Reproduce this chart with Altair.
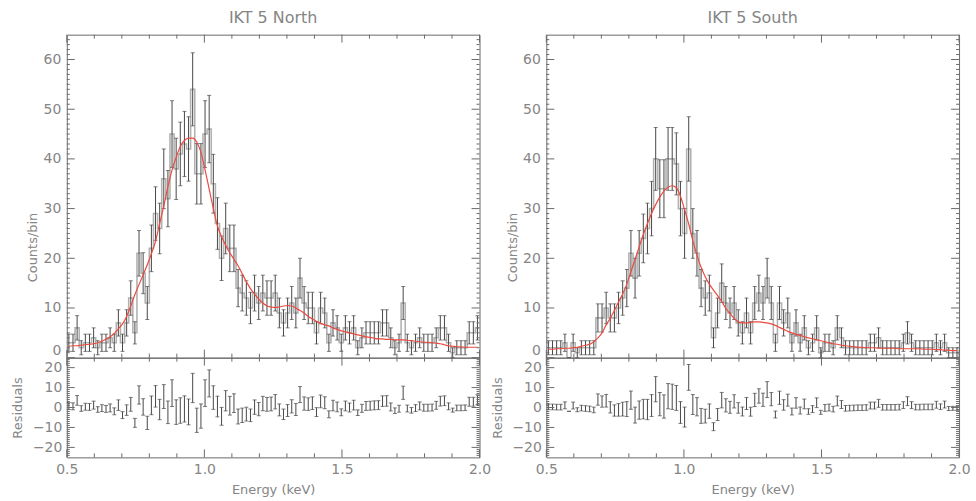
import numpy as np
import pandas as pd
import altair as alt

# ---------------- data ----------------
E_START, E_STOP, N_BINS = 0.5, 2.0, 100

counts_north = [3, 3, 6, 2, 3, 3, 4, 2, 3, 3,
                4, 3, 7, 3, 7, 12, 5, 21, 17, 11,
                22, 29, 26, 36, 32, 45, 38, 41, 43, 42,
                54, 37, 37, 45, 46, 35, 27, 20, 26, 22,
                22, 14, 13, 12, 10, 13, 11, 13, 12, 12,
                13, 9, 7, 9, 11, 9, 16, 11, 10, 10,
                5, 10, 9, 3, 7, 6, 3, 6, 5, 6,
                2, 4, 5, 5, 5, 5, 7, 7, 4, 2,
                3, 11, 3, 2, 3, 4, 3, 3, 3, 4,
                6, 6, 3, 1, 2, 2, 2, 5, 5, 6]

model_north = [2.3, 2.4, 2.4, 2.5, 2.6, 2.7, 2.8, 3.0, 3.3, 3.7,
               4.2, 4.9, 5.8, 6.8, 8.3, 10.4, 12.7, 14.7, 16.7, 18.7,
               20.9, 23.4, 27.0, 30.5, 34.4, 37.8, 40.3, 42.5, 43.7, 44.2,
               44.2, 43.4, 41.3, 37.8, 33.9, 30.0, 26.5, 24.4, 22.6, 21.1,
               19.8, 18.5, 16.9, 15.3, 13.9, 12.8, 11.8, 11.0, 10.4, 10.2,
               10.1, 10.2, 10.4, 10.5, 10.4, 10.0, 9.5, 9.0, 8.3, 7.8,
               7.3, 6.9, 6.6, 6.4, 6.0, 5.7, 5.4, 5.2, 5.0, 4.8,
               4.6, 4.4, 4.2, 4.1, 3.9, 3.8, 3.8, 3.7, 3.7, 3.6,
               3.6, 3.6, 3.5, 3.4, 3.3, 3.2, 3.1, 3.1, 3.0, 2.9,
               2.8, 2.6, 2.4, 2.3, 2.2, 2.2, 2.1, 2.1, 2.1, 2.1]

counts_south = [2, 2, 2, 2, 3, 0, 3, 1, 2, 2,
                2, 2, 8, 8, 10, 8, 8, 10, 12, 14,
                21, 16, 21, 24, 26, 30, 40, 34, 34, 40,
                40, 39, 30, 25, 42, 25, 21, 14, 12, 13,
                4, 9, 15, 11, 9, 11, 7, 5, 9, 5,
                11, 13, 11, 16, 11, 3, 11, 7, 9, 3,
                7, 3, 6, 2, 3, 6, 1, 3, 3, 2,
                6, 4, 2, 2, 2, 2, 2, 2, 3, 3,
                4, 2, 2, 2, 2, 2, 3, 5, 3, 2,
                2, 2, 2, 2, 3, 2, 3, 1, 1, 1]

model_south = [1.7, 1.7, 1.8, 1.8, 1.9, 1.9, 2.0, 2.1, 2.3, 2.5,
               2.7, 3.2, 4.0, 5.0, 6.6, 7.9, 9.5, 11.2, 12.8, 14.8,
               17.3, 19.8, 22.3, 24.8, 27.0, 29.0, 30.8, 32.3, 33.5, 34.3,
               34.6, 34.2, 32.5, 29.8, 26.9, 23.5, 20.6, 18.2, 16.3, 14.8,
               13.6, 12.5, 11.3, 9.9, 8.9, 7.9, 7.2, 7.0, 7.0, 7.1,
               7.2, 7.2, 7.1, 7.0, 6.8, 6.5, 6.1, 5.7, 5.3, 5.0,
               4.7, 4.5, 4.2, 4.0, 3.8, 3.6, 3.4, 3.2, 3.0, 2.8,
               2.7, 2.5, 2.4, 2.3, 2.2, 2.1, 2.1, 2.0, 2.0, 2.0,
               1.9, 1.9, 1.9, 1.9, 1.9, 1.8, 1.8, 1.8, 1.8, 1.8,
               1.8, 1.7, 1.7, 1.7, 1.6, 1.6, 1.5, 1.5, 1.4, 1.4]

titles = ["IKT 5 North", "IKT 5 South"]
x_major = [0.5, 1.0, 1.5, 2.0]
x_minor = [0.6, 0.7, 0.8, 0.9, 1.1, 1.2, 1.3, 1.4, 1.6, 1.7, 1.8, 1.9]
top_labels = [0, 10, 20, 30, 40, 50, 60]
res_labels = [-20, -10, 0, 10, 20]
top_minor = [v for v in range(1, 65) if v % 10]
res_minor = [v for v in range(-24, 25) if v % 10]

edges = np.linspace(E_START, E_STOP, N_BINS + 1)
centers = 0.5 * (edges[:-1] + edges[1:])

# ---------------- style ----------------
W, HT, HR = 414, 324, 100
TXT = "#858585"
FRAME = "#6a6a6a"
BAR = "#474747"
HIST = "#b2b2b2"
RED = "#ec4a3f"
FONT = "DejaVu Sans"

xs = alt.Scale(domain=[0.5, 2.0], nice=False, zero=False)
ys_top = alt.Scale(domain=[0, 65], nice=False, zero=False)
ys_res = alt.Scale(domain=[-25, 25], nice=False, zero=False)

common = dict(ticks=False, domain=False, grid=False, labelFont=FONT, labelFontSize=14,
              labelColor=TXT, labelFlush=False, titleFont=FONT, titleFontSize=13,
              titleColor=TXT, titleFontWeight="normal")

y_axis_top = alt.Axis(values=top_labels, format="d", title="Counts/bin", labelPadding=6,
                      labelBaseline={"condition": {"test": "datum.value === 0",
                                                   "value": "bottom"},
                                     "value": "middle"},
                      titleX=-34, titleY=213, titleAngle=270, titleAlign="center",
                      titleBaseline="middle", **common)
y_axis_res = alt.Axis(values=res_labels, format="d", title="Residuals", labelPadding=5,
                      titleX=-49, titleY=HR / 2, titleAngle=270, titleAlign="center",
                      titleBaseline="middle", **common)
x_axis_res = alt.Axis(values=x_major, format=".1f", title="Energy (keV)", labelPadding=5,
                      titleY=32, titleBaseline="middle", **common)


def rule_x(vals, y0, y1, xaxis):
    return alt.Chart(pd.DataFrame({"t": vals})).mark_rule(color=FRAME, strokeWidth=1).encode(
        x=alt.X("t:Q", scale=xs, axis=xaxis), y=alt.value(y0), y2=alt.value(y1))


def rule_y(vals, yscale, yaxis, x0, x1):
    return alt.Chart(pd.DataFrame({"t": vals})).mark_rule(color=FRAME, strokeWidth=1).encode(
        y=alt.Y("t:Q", scale=yscale, axis=yaxis), x=alt.value(x0), x2=alt.value(x1))


def frame_ticks(h, yscale, yaxis, xaxis, ymaj, ymin):
    return [
        rule_x(x_major, h, h - 8, xaxis), rule_x(x_minor, h, h - 4, xaxis),
        rule_x(x_major, 0, 8, xaxis), rule_x(x_minor, 0, 4, xaxis),
        rule_y(ymaj, yscale, yaxis, 0, 8), rule_y(ymin, yscale, yaxis, 0, 3),
        rule_y(ymaj, yscale, yaxis, W - 8, W), rule_y(ymin, yscale, yaxis, W - 3, W),
    ]


def top_panel(counts, model, title):
    c = np.array(counts, dtype=float)
    err = np.sqrt(c)
    df = pd.DataFrame({"E": centers, "lo": c - err, "hi": c + err, "m": model})
    step = pd.DataFrame({"E": edges, "c": np.append(c, c[-1])})
    X = alt.X("E:Q", scale=xs, axis=None)
    hist = alt.Chart(step).mark_line(interpolate="step-after", color=HIST, strokeWidth=1.6).encode(
        x=X, y=alt.Y("c:Q", scale=ys_top, axis=y_axis_top))
    base = alt.Chart(df).encode(x=X)
    bars = base.mark_rule(color=BAR, strokeWidth=1).encode(
        y=alt.Y("lo:Q", scale=ys_top, axis=y_axis_top), y2="hi:Q")
    cap_lo = base.mark_tick(orient="horizontal", size=4, thickness=1, color=BAR).encode(
        y=alt.Y("lo:Q", scale=ys_top, axis=y_axis_top))
    cap_hi = base.mark_tick(orient="horizontal", size=4, thickness=1, color=BAR).encode(
        y=alt.Y("hi:Q", scale=ys_top, axis=y_axis_top))
    line = base.mark_line(color=RED, strokeWidth=1.2, interpolate="monotone").encode(
        y=alt.Y("m:Q", scale=ys_top, axis=y_axis_top))
    layers = [hist, bars, cap_lo, cap_hi, line] + frame_ticks(HT, ys_top, y_axis_top, None,
                                                              top_labels, top_minor)
    return alt.layer(*layers).properties(
        width=W, height=HT,
        title=alt.TitleParams(title, font=FONT, fontSize=16, fontWeight="normal", color=TXT,
                              anchor="middle", offset=8))


def res_panel(counts, model):
    c = np.array(counts, dtype=float)
    m = np.array(model, dtype=float)
    err = np.sqrt(c)
    r = c - m
    df = pd.DataFrame({"E": centers, "lo": r - err, "hi": r + err})
    X = alt.X("E:Q", scale=xs, axis=x_axis_res)
    base = alt.Chart(df).encode(x=X)
    bars = base.mark_rule(color=BAR, strokeWidth=1).encode(
        y=alt.Y("lo:Q", scale=ys_res, axis=y_axis_res), y2="hi:Q")
    cap_lo = base.mark_tick(orient="horizontal", size=4, thickness=1, color=BAR).encode(
        y=alt.Y("lo:Q", scale=ys_res, axis=y_axis_res))
    cap_hi = base.mark_tick(orient="horizontal", size=4, thickness=1, color=BAR).encode(
        y=alt.Y("hi:Q", scale=ys_res, axis=y_axis_res))
    layers = [bars, cap_lo, cap_hi] + frame_ticks(HR, ys_res, y_axis_res, x_axis_res,
                                                  res_labels, res_minor)
    return alt.layer(*layers).properties(width=W, height=HR)


chart = alt.concat(
    top_panel(counts_north, model_north, titles[0]),
    top_panel(counts_south, model_south, titles[1]),
    res_panel(counts_north, model_north),
    res_panel(counts_south, model_south),
    columns=2, spacing={"row": 0, "column": 67}, bounds="flush",
).properties(
    padding={"left": 11, "top": 9, "right": 5, "bottom": 5},
    background="white",
).configure_view(stroke=FRAME, strokeWidth=1)

chart.save("out.html", embed_options={"renderer": "svg", "actions": False})
